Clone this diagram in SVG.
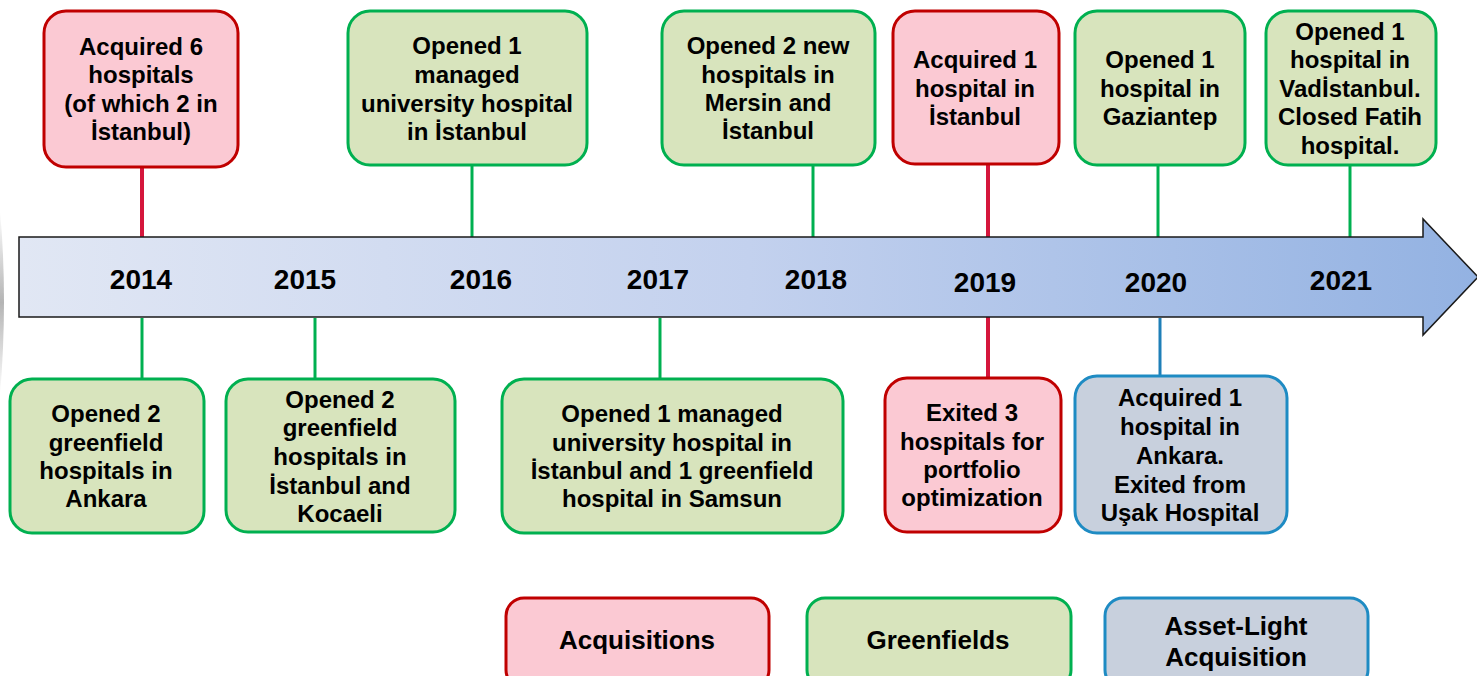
<svg xmlns="http://www.w3.org/2000/svg" width="1477" height="676" viewBox="0 0 1477 676">
<defs>
<linearGradient id="arrowGrad" x1="0" y1="0" x2="1" y2="0">
<stop offset="0" stop-color="#e1e7f4"/>
<stop offset="0.5" stop-color="#c3d1ee"/>
<stop offset="1" stop-color="#93b2e2"/>
</linearGradient>
<linearGradient id="edgeGrad" x1="0" y1="0" x2="0" y2="1">
<stop offset="0" stop-color="#ffffff"/>
<stop offset="0.5" stop-color="#b4b4b4"/>
<stop offset="1" stop-color="#ffffff"/>
</linearGradient>
</defs>
<style>
.t{font-family:"Liberation Sans",Arial,sans-serif;font-weight:bold;font-size:24px;fill:#000;text-anchor:middle}
.lg{font-family:"Liberation Sans",Arial,sans-serif;font-weight:bold;font-size:26px;fill:#000;text-anchor:middle}
.yr{font-family:"Liberation Sans",Arial,sans-serif;font-weight:bold;font-size:28px;fill:#000;text-anchor:middle}
.acq{fill:#fbc9d3;stroke:#c00000;stroke-width:3}
.grn{fill:#d8e4bd;stroke:#00b050;stroke-width:3}
.blu{fill:#c8d0dd;stroke:#1e8bc3;stroke-width:3}
.cr{stroke:#d5163c;stroke-width:4}
.cg{stroke:#00b050;stroke-width:3}
.cb{stroke:#1e7fb8;stroke-width:3}
</style>
<rect width="1477" height="676" fill="#ffffff"/>
<path d="M0,210 Q8,300 0,395 Z" fill="url(#edgeGrad)"/>
<g id="connectors">
<line class="cr" x1="142" y1="167" x2="142" y2="237"/>
<line class="cg" x1="472" y1="165" x2="472" y2="237"/>
<line class="cg" x1="813" y1="165" x2="813" y2="237"/>
<line class="cr" x1="988" y1="164" x2="988" y2="239"/>
<line class="cg" x1="1158" y1="165" x2="1158" y2="237"/>
<line class="cg" x1="1350" y1="165" x2="1350" y2="237"/>
<line class="cg" x1="142" y1="318" x2="142" y2="378"/>
<line class="cg" x1="315" y1="318" x2="315" y2="378"/>
<line class="cg" x1="660" y1="318" x2="660" y2="378"/>
<line class="cr" x1="988" y1="316" x2="988" y2="377"/>
<line class="cb" x1="1160" y1="318" x2="1160" y2="375"/>
</g>
<g id="timeline">
<path d="M19,237 H1423 V219 L1478,277 L1423,335 V317 H19 Z" fill="url(#arrowGrad)" stroke="#1a1a1a" stroke-width="1.5"/>
<text class="yr" x="141" y="289">2014</text>
<text class="yr" x="305" y="289">2015</text>
<text class="yr" x="481" y="289">2016</text>
<text class="yr" x="658" y="289">2017</text>
<text class="yr" x="816" y="289">2018</text>
<text class="yr" x="985" y="292">2019</text>
<text class="yr" x="1156" y="292">2020</text>
<text class="yr" x="1341" y="290">2021</text>
</g>
<g id="n2014top">
<rect class="acq" x="44" y="11" width="194" height="156" rx="22"/>
<text class="t" x="141" y="55">Acquired 6</text>
<text class="t" x="141" y="83">hospitals</text>
<text class="t" x="141" y="112">(of which 2 in</text>
<text class="t" x="141" y="140">İstanbul)</text>
</g>
<g id="n2016top">
<rect class="grn" x="348" y="11" width="239" height="154" rx="22"/>
<text class="t" x="467" y="54">Opened 1</text>
<text class="t" x="467" y="83">managed</text>
<text class="t" x="467" y="112">university hospital</text>
<text class="t" x="467" y="140">in İstanbul</text>
</g>
<g id="n2018top">
<rect class="grn" x="662" y="11" width="213" height="154" rx="22"/>
<text class="t" x="768" y="54">Opened 2 new</text>
<text class="t" x="768" y="83">hospitals in</text>
<text class="t" x="768" y="111">Mersin and</text>
<text class="t" x="768" y="139">İstanbul</text>
</g>
<g id="n2019top">
<rect class="acq" x="893" y="11" width="166" height="153" rx="22"/>
<text class="t" x="975" y="68">Acquired 1</text>
<text class="t" x="975" y="97">hospital in</text>
<text class="t" x="975" y="125">İstanbul</text>
</g>
<g id="n2020top">
<rect class="grn" x="1075" y="11" width="170" height="154" rx="22"/>
<text class="t" x="1160" y="68">Opened 1</text>
<text class="t" x="1160" y="97">hospital in</text>
<text class="t" x="1160" y="125">Gaziantep</text>
</g>
<g id="n2021top">
<rect class="grn" x="1266" y="11" width="170" height="154" rx="22"/>
<text class="t" x="1350" y="40">Opened 1</text>
<text class="t" x="1350" y="68">hospital in</text>
<text class="t" x="1350" y="97">Vadİstanbul.</text>
<text class="t" x="1350" y="125">Closed Fatih</text>
<text class="t" x="1350" y="154">hospital.</text>
</g>
<g id="n2014bot">
<rect class="grn" x="10" y="379" width="194" height="154" rx="22"/>
<text class="t" x="106" y="422">Opened 2</text>
<text class="t" x="106" y="451">greenfield</text>
<text class="t" x="106" y="479">hospitals in</text>
<text class="t" x="106" y="507">Ankara</text>
</g>
<g id="n2015bot">
<rect class="grn" x="226" y="379" width="229" height="153" rx="22"/>
<text class="t" x="340" y="408">Opened 2</text>
<text class="t" x="340" y="436">greenfield</text>
<text class="t" x="340" y="465">hospitals in</text>
<text class="t" x="340" y="494">İstanbul and</text>
<text class="t" x="340" y="522">Kocaeli</text>
</g>
<g id="n2017bot">
<rect class="grn" x="502" y="379" width="341" height="154" rx="22"/>
<text class="t" x="672" y="422">Opened 1 managed</text>
<text class="t" x="672" y="451">university hospital in</text>
<text class="t" x="672" y="479">İstanbul and 1 greenfield</text>
<text class="t" x="672" y="507">hospital in Samsun</text>
</g>
<g id="n2019bot">
<rect class="acq" x="885" y="378" width="176" height="154" rx="22"/>
<text class="t" x="972" y="421">Exited 3</text>
<text class="t" x="972" y="450">hospitals for</text>
<text class="t" x="972" y="478">portfolio</text>
<text class="t" x="972" y="506">optimization</text>
</g>
<g id="n2020bot">
<rect class="blu" x="1075" y="376" width="212" height="157" rx="22"/>
<text class="t" x="1180" y="406">Acquired 1</text>
<text class="t" x="1180" y="435">hospital in</text>
<text class="t" x="1180" y="464">Ankara.</text>
<text class="t" x="1180" y="493">Exited from</text>
<text class="t" x="1180" y="521">Uşak Hospital</text>
</g>
<g id="legendAcq">
<rect class="acq" x="506" y="598" width="263" height="90" rx="18"/>
<text class="lg" x="637" y="649">Acquisitions</text>
</g>
<g id="legendGrn">
<rect class="grn" x="807" y="598" width="264" height="90" rx="18"/>
<text class="lg" x="938" y="649">Greenfields</text>
</g>
<g id="legendBlu">
<rect class="blu" x="1105" y="598" width="263" height="90" rx="18"/>
<text class="lg" x="1236" y="635">Asset-Light</text>
<text class="lg" x="1236" y="666">Acquisition</text>
</g>
</svg>
